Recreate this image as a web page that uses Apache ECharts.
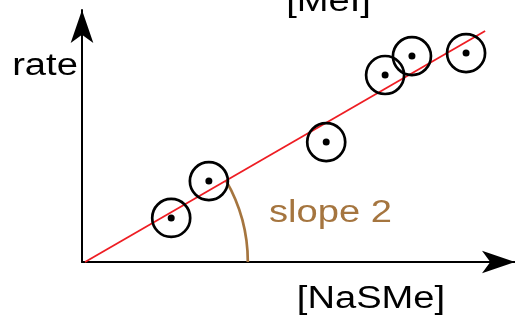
<!DOCTYPE html>
<html>
<head>
<meta charset="utf-8">
<script src="https://cdn.jsdelivr.net/npm/echarts@6/dist/echarts.min.js"></script>
<style>
  html, body { margin: 0; padding: 0; background: #fff; }
  #chart { width: 515px; height: 320px; }
</style>
</head>
<body>
<div id="chart"></div>
<script>
// ---- data ----
const xName = '[NaSMe]';
const yName = 'rate';
const topName = '[MeI]';
const slopeLabel = 'slope 2';
// measured points ([NaSMe], rate)
const pointsX = [2.06, 2.93, 5.64, 7.00, 7.62, 8.87];
const pointsY = [1.75, 3.21, 4.76, 7.42, 8.17, 8.29];
// fitted line end points
const fitX = [0.07, 9.31];
const fitY = [0, 9.17];
// angle marker radius (in [NaSMe] units)
const arcRadius = 3.76;

const points = pointsX.map((x, i) => [x, pointsY[i]]);
const fitLine = fitX.map((x, i) => [x, fitY[i]]);

const brown = '#a5753f';
const font = '"Liberation Sans", Arial, Helvetica, sans-serif';
const fs = 31;
const sx = 1.23;

const chart = echarts.init(document.getElementById('chart'), null, { renderer: 'canvas' });

const axisCommon = {
  type: 'value', min: 0, max: 10,
  axisTick: { show: false }, axisLabel: { show: false }, splitLine: { show: false },
  axisLine: { show: true, symbol: ['none', 'arrow'], symbolSize: [17, 33],
    lineStyle: { color: '#000', width: 2 } }
};

function txt(text, x, y, color) {
  return {
    type: 'text', x: x, y: y, scaleX: sx, silent: true, z: 100,
    style: { text: text, x: 0, y: 0, fill: color, fontSize: fs, fontFamily: font,
      align: 'center', verticalAlign: 'middle' }
  };
}

chart.setOption({
  animation: false,
  backgroundColor: '#fff',
  grid: { left: 82, right: 0, top: 10, bottom: 58, containLabel: false },
  xAxis: Object.assign({}, axisCommon),
  yAxis: Object.assign({}, axisCommon),
  graphic: { elements: [
    txt(yName, 45, 66, '#000'),
    txt(slopeLabel, 330.5, 213, brown),
    txt(xName, 371, 299, '#000'),
    txt(topName, 328.5, 2, '#000')
  ]},
  series: [
    {
      type: 'custom', coordinateSystem: 'cartesian2d', silent: true, z: 1,
      data: [[fitX[0], fitY[0], arcRadius]],
      renderItem: function (params, api) {
        const c = api.coord([api.value(0), api.value(1)]);
        const e = api.coord([api.value(0) + api.value(2), api.value(1)]);
        const p1 = api.coord(fitLine[0]);
        const p2 = api.coord(fitLine[1]);
        const ang = Math.atan2(p2[1] - p1[1], p2[0] - p1[0]);
        return {
          type: 'arc',
          shape: { cx: c[0], cy: c[1], r: e[0] - c[0], startAngle: ang, endAngle: 0, clockwise: true },
          style: { stroke: brown, lineWidth: 2.7, fill: null }
        };
      }
    },
    {
      type: 'line', data: fitLine, symbol: 'none', silent: true, z: 3,
      lineStyle: { color: '#ee1d23', width: 1.8 }
    },
    {
      type: 'scatter', data: points, symbol: 'circle', symbolSize: 38, silent: true, z: 4,
      itemStyle: { color: 'rgba(0,0,0,0)', borderColor: '#000', borderWidth: 2.7, opacity: 1 }
    },
    {
      type: 'scatter', data: points, symbol: 'circle', symbolSize: 7, silent: true, z: 5,
      itemStyle: { color: '#000', opacity: 1 }
    }
  ]
});
</script>
</body>
</html>
